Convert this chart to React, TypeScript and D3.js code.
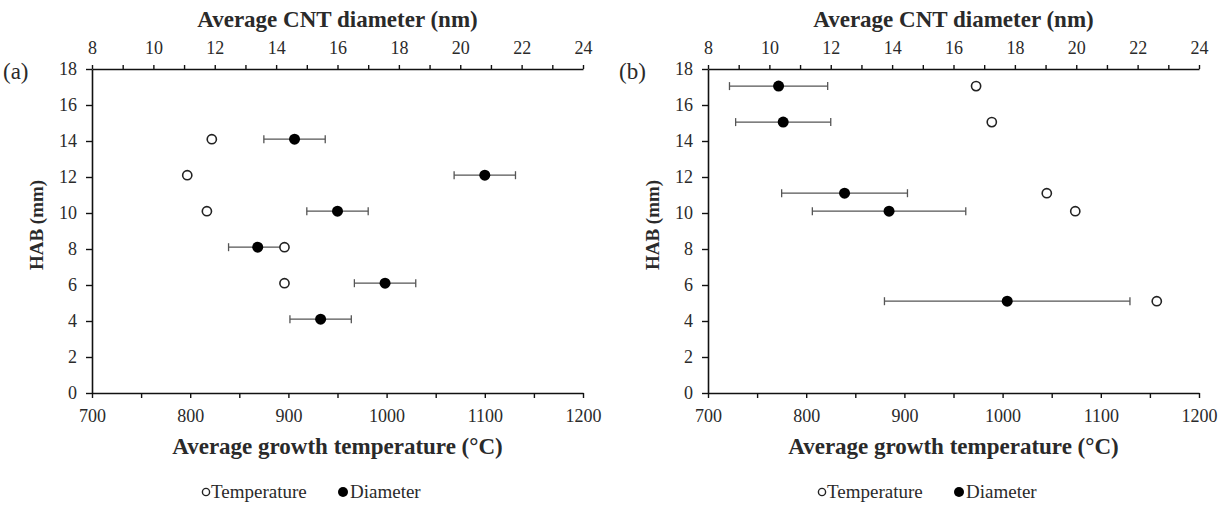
import React, { useEffect, useRef } from 'react';
import * as d3 from 'd3';

const W = 1226;
const H = 508;

// panel (a)
const habTempA = [14.1, 12.1, 10.1, 8.1, 6.1];
const tempA = [822, 797, 817, 896, 896];
const habDiamA = [14.1, 12.1, 10.1, 8.1, 6.1, 4.1];
const diamA = [14.6, 20.8, 16.0, 13.4, 17.55, 15.45];
const diamErrA = [1.0, 1.0, 1.0, 0.95, 1.0, 1.0];

// panel (b)
const habTempB = [17.05, 15.05, 11.1, 10.1, 5.1];
const tempB = [973, 989, 1045, 1074, 1157];
const habDiamB = [17.05, 15.05, 11.1, 10.1, 5.1];
const diamB = [10.3, 10.45, 12.45, 13.9, 17.75];
const diamErrB = [1.6, 1.55, 2.05, 2.5, 4.0];

const tempDomain = [700, 1200];
const diamDomain = [8, 24];
const habDomain = [0, 18];

const serif = '"Liberation Serif", "Times New Roman", serif';
const textColor = '#2a2a2a';

const panels = [
  {
    label: '(a)', left: 92, right: 583,
    habT: habTempA, temp: tempA, habD: habDiamA, diam: diamA, err: diamErrA,
  },
  {
    label: '(b)', left: 708, right: 1199,
    habT: habTempB, temp: tempB, habD: habDiamB, diam: diamB, err: diamErrB,
  },
];

const top = 69;
const bottom = 393;

function drawPanel(svg, p) {
  const g = svg.append('g');

  const xT = d3.scaleLinear().domain(tempDomain).range([p.left, p.right]);
  const xD = d3.scaleLinear().domain(diamDomain).range([p.left, p.right]);
  const y = d3.scaleLinear().domain(habDomain).range([bottom, top]);

  const styleAxis = (sel) => {
    sel.select('.domain').attr('stroke', '#111').attr('stroke-width', 1.6);
    sel.selectAll('.tick line').attr('stroke', '#111').attr('stroke-width', 1.4);
    sel.selectAll('.tick text')
      .attr('fill', textColor)
      .attr('font-family', serif)
      .attr('font-size', 18);
  };

  // bottom axis: ticks every 50, labels every 100
  const bottomAxis = g.append('g')
    .attr('transform', `translate(0,${bottom})`)
    .call(
      d3.axisBottom(xT)
        .tickValues(d3.range(700, 1201, 50))
        .tickSize(5)
        .tickSizeOuter(0)
        .tickPadding(11)
        .tickFormat((d) => (d % 100 === 0 ? d3.format('d')(d) : ''))
    );
  styleAxis(bottomAxis);

  // top axis: ticks every 1, labels every 2
  const topAxis = g.append('g')
    .attr('transform', `translate(0,${top})`)
    .call(
      d3.axisTop(xD)
        .tickValues(d3.range(8, 25, 1))
        .tickSize(4)
        .tickSizeOuter(0)
        .tickPadding(11)
        .tickFormat((d) => (d % 2 === 0 ? d3.format('d')(d) : ''))
    );
  styleAxis(topAxis);

  const leftAxis = g.append('g')
    .attr('transform', `translate(${p.left},0)`)
    .call(
      d3.axisLeft(y)
        .tickValues(d3.range(0, 19, 2))
        .tickSize(6)
        .tickSizeOuter(0)
        .tickPadding(9)
    );
  styleAxis(leftAxis);

  // titles
  g.append('text')
    .attr('x', (p.left + p.right) / 2)
    .attr('y', 27)
    .attr('text-anchor', 'middle')
    .attr('font-family', serif)
    .attr('font-weight', 'bold')
    .attr('font-size', 23)
    .attr('fill', textColor)
    .text('Average CNT diameter (nm)');

  g.append('text')
    .attr('x', (p.left + p.right) / 2)
    .attr('y', 454)
    .attr('text-anchor', 'middle')
    .attr('font-family', serif)
    .attr('font-weight', 'bold')
    .attr('font-size', 23)
    .attr('fill', textColor)
    .text('Average growth temperature (°C)');

  g.append('text')
    .attr('transform', `translate(${p.left - 49},${(top + bottom) / 2 - 6}) rotate(-90)`)
    .attr('text-anchor', 'middle')
    .attr('font-family', serif)
    .attr('font-weight', 'bold')
    .attr('font-size', 19)
    .attr('fill', textColor)
    .text('HAB (mm)');

  g.append('text')
    .attr('x', p.left - 89)
    .attr('y', top + 10)
    .attr('font-family', serif)
    .attr('font-size', 23)
    .attr('fill', textColor)
    .text(p.label);

  // error bars
  const diamRows = p.diam.map((d, i) => ({ d, hab: p.habD[i], e: p.err[i] }));
  const eb = g.append('g').attr('stroke', '#555').attr('stroke-width', 1.3);
  diamRows.forEach((r) => {
    const x0 = xD(r.d - r.e);
    const x1 = xD(r.d + r.e);
    const yy = y(r.hab);
    eb.append('line').attr('x1', x0).attr('x2', x1).attr('y1', yy).attr('y2', yy);
    eb.append('line').attr('x1', x0).attr('x2', x0).attr('y1', yy - 4).attr('y2', yy + 4);
    eb.append('line').attr('x1', x1).attr('x2', x1).attr('y1', yy - 4).attr('y2', yy + 4);
  });

  // temperature markers
  g.append('g').selectAll('circle')
    .data(p.temp.map((t, i) => ({ t, hab: p.habT[i] })))
    .join('circle')
    .attr('cx', (d) => xT(d.t))
    .attr('cy', (d) => y(d.hab))
    .attr('r', 4.6)
    .attr('fill', '#fff')
    .attr('stroke', '#222')
    .attr('stroke-width', 1.6);

  // diameter markers
  g.append('g').selectAll('circle')
    .data(diamRows)
    .join('circle')
    .attr('cx', (d) => xD(d.d))
    .attr('cy', (d) => y(d.hab))
    .attr('r', 5.5)
    .attr('fill', '#000');

  // legend
  const lx = p.left + 114;
  const lg = g.append('g').attr('transform', `translate(${lx},492)`);
  lg.append('circle').attr('cx', 0).attr('cy', 0).attr('r', 3.6)
    .attr('fill', '#fff').attr('stroke', '#222').attr('stroke-width', 1.4);
  lg.append('text').attr('x', 5).attr('y', 6)
    .attr('font-family', serif).attr('font-size', 19).attr('fill', textColor)
    .text('Temperature');
  lg.append('circle').attr('cx', 137).attr('cy', 0).attr('r', 5).attr('fill', '#000');
  lg.append('text').attr('x', 144).attr('y', 6)
    .attr('font-family', serif).attr('font-size', 19).attr('fill', textColor)
    .text('Diameter');
}

export default function App() {
  const ref = useRef<SVGSVGElement | null>(null);

  useEffect(() => {
    const svg = d3.select(ref.current);
    svg.selectAll('*').remove();
    svg.append('rect').attr('width', W).attr('height', H).attr('fill', '#fff');
    panels.forEach((p) => drawPanel(svg, p));
  }, []);

  return (
    <svg
      ref={ref}
      width={W}
      height={H}
      style={{ position: 'absolute', left: 0, top: 0, display: 'block' }}
    />
  );
}
